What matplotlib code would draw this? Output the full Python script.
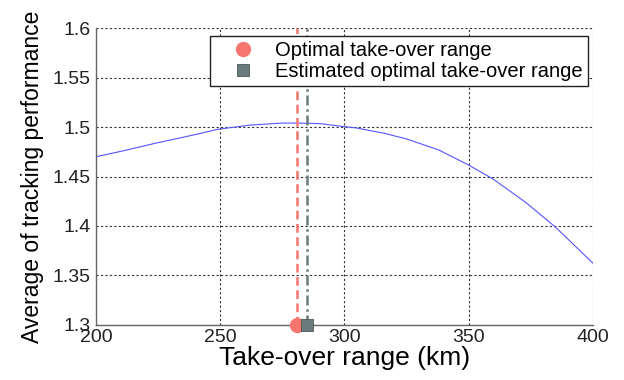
import matplotlib
matplotlib.use("Agg")
import matplotlib.pyplot as plt

plt.rcParams['font.family'] = ['Liberation Sans', 'DejaVu Sans']

# Average tracking performance versus take-over range
take_over_km = [200, 211, 224, 238, 249, 262, 275, 281, 290, 298, 305, 316, 325, 338,
                350, 360, 373, 385, 400]
performance = [1.470, 1.476, 1.4837, 1.4913, 1.4977, 1.502, 1.504, 1.504, 1.5035, 1.501,
               1.499, 1.4937, 1.488, 1.4768, 1.4616, 1.4472, 1.4238, 1.3988, 1.3625]

optimal_range = 281
estimated_range = 285
y_floor = 1.3

xticks = [200, 250, 300, 350, 400]
yticks = [1.3, 1.35, 1.4, 1.45, 1.5, 1.55, 1.6]
ytick_labels = ['1.3', '1.35', '1.4', '1.45', '1.5', '1.55', '1.6']

red = '#f4766e'
grey = '#6a7b7b'

fig = plt.figure(figsize=(6.24, 3.80), dpi=100)
ax = fig.add_axes([0.154, 0.145, 0.796, 0.781])

ax.plot(take_over_km, performance, color='#5555ff', lw=0.8)
ax.axvline(optimal_range, color=red, ls=(0, (3.5, 1.8)), lw=1.8)
ax.axvline(estimated_range, color=grey, ls=(0, (4, 1.5, 1, 1.5)), lw=1.8)

ax.plot([optimal_range], [y_floor], 'o', color=red, ms=10, clip_on=False, zorder=5,
        label='Optimal take-over range')
ax.plot([estimated_range], [y_floor], 's', color=grey, mec='#4a5555', mew=0.6, ms=9,
        clip_on=False, zorder=6, label='Estimated optimal take-over range')

ax.set_xlim(200, 400)
ax.set_ylim(1.3, 1.6)
ax.set_xticks(xticks)
ax.set_yticks(yticks)
ax.set_yticklabels(ytick_labels)
ax.tick_params(labelsize=14, length=0, colors='#222222')
ax.tick_params(axis='x', pad=3)
ax.tick_params(axis='y', pad=4)
ax.grid(True, ls=(0, (2, 2)), color='#333333', lw=0.8)
for s in ['top', 'right']:
    ax.spines[s].set_visible(False)
for s in ['left', 'bottom']:
    ax.spines[s].set_color('#666666')
    ax.spines[s].set_linewidth(1.0)

ax.set_xlabel('Take-over range (km)', fontsize=19, labelpad=0)
ax.set_ylabel('Average of tracking performance', fontsize=16.5, labelpad=6)

leg = ax.legend(loc='upper right', bbox_to_anchor=(0.99, 0.975), borderaxespad=0,
                fontsize=14.5, frameon=True, fancybox=False, edgecolor='#222222',
                framealpha=1, borderpad=0.25, handletextpad=0.2, labelspacing=0.1,
                handlelength=2.8)
leg.get_frame().set_linewidth(1.0)

fig.savefig('out.png', dpi=100)
